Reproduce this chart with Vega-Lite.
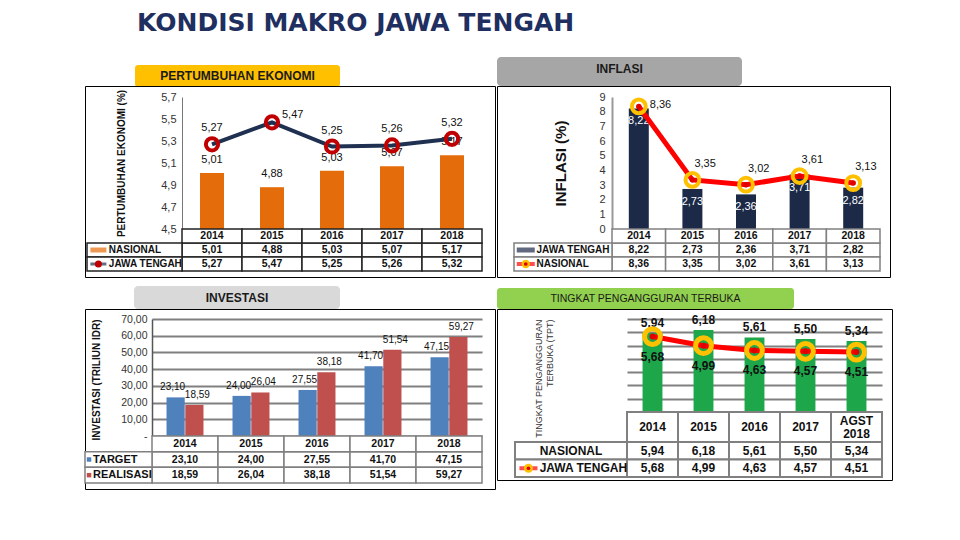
{
"$schema":"https://vega.github.io/schema/vega-lite/v6.json",
"background":"white",
"padding":{"left":83,"top":11,"right":10,"bottom":10},
"title":{"text":"KONDISI MAKRO JAWA TENGAH","anchor":"start","frame":"group","dx":52,"font":"DejaVu Sans","fontSize":25,"fontWeight":"bold","color":"#1f2f5f","offset":21},
"config":{"view":{"stroke":null},"font":"Liberation Sans","locale":{"number":{"decimal":",","thousands":".","grouping":[3],"currency":["Rp",""]}},"axis":{"labelFont":"Liberation Sans","titleFont":"Liberation Sans"}},
"datasets":{
"pe":[{"tahun":"2014","seri":"NASIONAL","nilai":5.01},{"tahun":"2014","seri":"JAWA TENGAH","nilai":5.27},{"tahun":"2015","seri":"NASIONAL","nilai":4.88},{"tahun":"2015","seri":"JAWA TENGAH","nilai":5.47},{"tahun":"2016","seri":"NASIONAL","nilai":5.03},{"tahun":"2016","seri":"JAWA TENGAH","nilai":5.25},{"tahun":"2017","seri":"NASIONAL","nilai":5.07},{"tahun":"2017","seri":"JAWA TENGAH","nilai":5.26},{"tahun":"2018","seri":"NASIONAL","nilai":5.17},{"tahun":"2018","seri":"JAWA TENGAH","nilai":5.32}],
"inf":[{"tahun":"2014","seri":"JAWA TENGAH","nilai":8.22},{"tahun":"2014","seri":"NASIONAL","nilai":8.36},{"tahun":"2015","seri":"JAWA TENGAH","nilai":2.73},{"tahun":"2015","seri":"NASIONAL","nilai":3.35},{"tahun":"2016","seri":"JAWA TENGAH","nilai":2.36},{"tahun":"2016","seri":"NASIONAL","nilai":3.02},{"tahun":"2017","seri":"JAWA TENGAH","nilai":3.71},{"tahun":"2017","seri":"NASIONAL","nilai":3.61},{"tahun":"2018","seri":"JAWA TENGAH","nilai":2.82},{"tahun":"2018","seri":"NASIONAL","nilai":3.13}],
"inv":[{"tahun":"2014","seri":"TARGET","nilai":23.10},{"tahun":"2014","seri":"REALISASI","nilai":18.59},{"tahun":"2015","seri":"TARGET","nilai":24.00},{"tahun":"2015","seri":"REALISASI","nilai":26.04},{"tahun":"2016","seri":"TARGET","nilai":27.55},{"tahun":"2016","seri":"REALISASI","nilai":38.18},{"tahun":"2017","seri":"TARGET","nilai":41.70},{"tahun":"2017","seri":"REALISASI","nilai":51.54},{"tahun":"2018","seri":"TARGET","nilai":47.15},{"tahun":"2018","seri":"REALISASI","nilai":59.27}],
"tpt":[{"tahun":"2014","seri":"NASIONAL","nilai":5.94},{"tahun":"2014","seri":"JAWA TENGAH","nilai":5.68},{"tahun":"2015","seri":"NASIONAL","nilai":6.18},{"tahun":"2015","seri":"JAWA TENGAH","nilai":4.99},{"tahun":"2016","seri":"NASIONAL","nilai":5.61},{"tahun":"2016","seri":"JAWA TENGAH","nilai":4.63},{"tahun":"2017","seri":"NASIONAL","nilai":5.50},{"tahun":"2017","seri":"JAWA TENGAH","nilai":4.57},{"tahun":"AGST 2018","seri":"NASIONAL","nilai":5.34},{"tahun":"AGST 2018","seri":"JAWA TENGAH","nilai":4.51}]
},
"columns":3,"align":"each","bounds":"flush","spacing":0,
"concat":[
 {"width":410,"height":29,"data":{"values":[{"t":"PERTUMBUHAN EKONOMI"}]},
  "encoding":{"x":{"datum":0,"type":"quantitative","scale":{"domain":[0,1],"range":[50,255]},"axis":null},"y":{"datum":0,"type":"quantitative","scale":{"domain":[0,1],"range":[8,30]},"axis":null}},
  "layer":[
   {"mark":{"type":"rect","color":"#ffc000","cornerRadius":3},"encoding":{"x2":{"datum":1},"y2":{"datum":1}}},
   {"mark":{"type":"text","fontWeight":"bold","fontSize":12,"color":"#1a1a1a"},"encoding":{"x":{"datum":0.5,"type":"quantitative"},"y":{"datum":0.5,"type":"quantitative"},"text":{"field":"t"}}}
  ]},
 {"width":2,"height":29,"data":{"values":[]},"mark":"point"},
 {"width":393,"height":29,"data":{"values":[{"t":"INFLASI"}]},
  "encoding":{"x":{"datum":0,"type":"quantitative","scale":{"domain":[0,1],"range":[0,245]},"axis":null},"y":{"datum":0,"type":"quantitative","scale":{"domain":[0,1],"range":[0,29]},"axis":null}},
  "layer":[
   {"mark":{"type":"rect","color":"#a6a6a6","cornerRadius":4},"encoding":{"x2":{"datum":1},"y2":{"datum":1}}},
   {"mark":{"type":"text","fontWeight":"bold","fontSize":12,"color":"#1a1a1a","dy":-3},"encoding":{"x":{"datum":0.5,"type":"quantitative"},"y":{"datum":0.5,"type":"quantitative"},"text":{"field":"t"}}}
  ]},

 {"width":410,"height":191,"view":{"stroke":"#000","strokeWidth":1},"data":{"name":"pe"},
  "resolve":{"scale":{"x":"independent","y":"independent"}},
  "layer":[
   {"encoding":{
     "x":{"field":"tahun","type":"ordinal","sort":null,"scale":{"range":[97,397],"paddingInner":0.6,"paddingOuter":0.3},"axis":null},
     "y":{"field":"nilai","type":"quantitative","scale":{"domain":[4.5,5.7],"zero":false,"nice":false,"range":[143,11]},"axis":{"offset":-97,"values":[4.5,4.7,4.9,5.1,5.3,5.5,5.7],"format":".1f","title":"PERTUMBUHAN EKONOMI (%)","titleFontSize":10,"titleFontWeight":"bold","titleColor":"#111","titlePadding":34,"labelFontSize":11,"labelColor":"#333","labelPadding":6,"ticks":false,"grid":false,"domainColor":"#777"}}},
    "layer":[
     {"transform":[{"filter":"datum.seri == 'NASIONAL'"}],"mark":{"type":"bar","color":"#e46c0a"},"encoding":{"y2":{"datum":4.5}}},
     {"transform":[{"filter":"datum.seri == 'NASIONAL'"}],"mark":{"type":"text","baseline":"bottom","dy":-8,"fontSize":11,"color":"#111"},"encoding":{"text":{"field":"nilai","type":"quantitative","format":".2f"}}},
     {"transform":[{"filter":"datum.seri == 'JAWA TENGAH'"}],"mark":{"type":"line","color":"#1f3050","strokeWidth":4},"encoding":{}},
     {"transform":[{"filter":"datum.seri == 'JAWA TENGAH'"}],"mark":{"type":"point","filled":false,"color":"#c00000","strokeWidth":4,"size":150,"opacity":1},"encoding":{}},
     {"transform":[{"filter":"datum.seri == 'JAWA TENGAH' && datum.tahun != '2015'"}],"mark":{"type":"text","baseline":"bottom","dy":-11,"fontSize":11,"color":"#111"},"encoding":{"text":{"field":"nilai","type":"quantitative","format":".2f"}}},
     {"transform":[{"filter":"datum.seri == 'JAWA TENGAH' && datum.tahun == '2015'"}],"mark":{"type":"text","align":"left","baseline":"middle","dx":10,"dy":-7,"fontSize":11,"color":"#111"},"encoding":{"text":{"field":"nilai","type":"quantitative","format":".2f"}}}
    ]},
   {"encoding":{
     "x":{"field":"tahun","type":"ordinal","sort":null,"scale":{"range":[97,397],"paddingInner":0,"paddingOuter":0},"axis":null},
     "y":{"field":"seri","type":"nominal","scale":{"domain":["th","NASIONAL","JAWA TENGAH"],"range":[143,185],"paddingInner":0,"paddingOuter":0},"axis":null}},
    "layer":[
     {"mark":{"type":"rect","fill":"white","stroke":"#222","strokeWidth":1.5},"encoding":{}},
     {"transform":[{"filter":"datum.seri == 'NASIONAL'"}],"mark":{"type":"rect","fill":"white","stroke":"#222","strokeWidth":1.5},"encoding":{"y":{"datum":"th","type":"nominal"}}},
     {"mark":{"type":"text","fontWeight":"bold","fontSize":10.5,"color":"#111"},"encoding":{"text":{"field":"nilai","type":"quantitative","format":".2f"}}},
     {"transform":[{"filter":"datum.seri == 'NASIONAL'"}],"mark":{"type":"text","fontWeight":"bold","fontSize":10.5,"color":"#111"},"encoding":{"y":{"datum":"th","type":"nominal"},"text":{"field":"tahun"}}}
    ]},
   {"transform":[{"filter":"datum.tahun == '2014'"}],
    "encoding":{
     "x":{"datum":0,"type":"quantitative","scale":{"domain":[0,1],"range":[2,97]},"axis":null},
     "y":{"field":"seri","type":"nominal","scale":{"domain":["th","NASIONAL","JAWA TENGAH"],"range":[143,185],"paddingInner":0,"paddingOuter":0},"axis":null}},
    "layer":[
     {"mark":{"type":"rect","fill":"white","stroke":"#222","strokeWidth":1.5},"encoding":{"x2":{"datum":1}}},
     {"mark":{"type":"text","align":"left","fontWeight":"bold","fontSize":10,"color":"#111"},"encoding":{"x":{"datum":0.23,"type":"quantitative"},"text":{"field":"seri"}}},
     {"transform":[{"filter":"datum.seri == 'NASIONAL'"}],"mark":{"type":"tick","orient":"horizontal","color":"#e46c0a","thickness":5,"size":16},"encoding":{"x":{"datum":0.12,"type":"quantitative"}}},
     {"transform":[{"filter":"datum.seri == 'JAWA TENGAH'"}],"mark":{"type":"tick","orient":"horizontal","color":"#1f3050","thickness":3,"size":16},"encoding":{"x":{"datum":0.12,"type":"quantitative"}}},
     {"transform":[{"filter":"datum.seri == 'JAWA TENGAH'"}],"mark":{"type":"point","filled":true,"color":"#c00000","size":50,"opacity":1},"encoding":{"x":{"datum":0.12,"type":"quantitative"}}}
    ]}
  ]},
 {"width":2,"height":191,"data":{"values":[]},"mark":"point"},
 {"width":393,"height":191,"view":{"stroke":"#000","strokeWidth":1},"data":{"name":"inf"},
  "resolve":{"scale":{"x":"independent","y":"independent"}},
  "layer":[
   {"encoding":{
     "x":{"field":"tahun","type":"ordinal","sort":null,"scale":{"range":[115,383],"paddingInner":0.627,"paddingOuter":0.3135},"axis":null},
     "y":{"field":"nilai","type":"quantitative","scale":{"domain":[0,9],"nice":false,"range":[143,11]},"axis":{"offset":-115,"values":[0,1,2,3,4,5,6,7,8,9],"format":"d","title":"INFLASI (%)","titleFontSize":15,"titleFontWeight":"bold","titleColor":"#111","titlePadding":30,"labelFontSize":11,"labelColor":"#333","labelPadding":7,"ticks":false,"grid":false,"domainColor":"#999","domainWidth":2}}},
    "layer":[
     {"transform":[{"filter":"datum.seri == 'JAWA TENGAH'"}],"mark":{"type":"bar","color":"#1c2a48"},"encoding":{}},
     {"transform":[{"filter":"datum.seri == 'JAWA TENGAH'"}],"mark":{"type":"text","baseline":"top","dy":7,"fontSize":11,"color":"white"},"encoding":{"text":{"field":"nilai","type":"quantitative","format":".2f"}}},
     {"transform":[{"filter":"datum.seri == 'NASIONAL'"}],"mark":{"type":"line","color":"#ff0000","strokeWidth":5},"encoding":{}},
     {"transform":[{"filter":"datum.seri == 'NASIONAL'"}],"mark":{"type":"point","filled":false,"color":"#ffc000","strokeWidth":4,"size":190,"opacity":1},"encoding":{}},
     {"transform":[{"filter":"datum.seri == 'NASIONAL'"}],"mark":{"type":"point","filled":true,"color":"#e00000","size":30,"opacity":1},"encoding":{}},
     {"transform":[{"filter":"datum.seri == 'NASIONAL' && datum.tahun != '2014'"}],"mark":{"type":"text","align":"left","baseline":"bottom","dx":2,"dy":-11,"fontSize":11,"color":"#111"},"encoding":{"text":{"field":"nilai","type":"quantitative","format":".2f"}}},
     {"transform":[{"filter":"datum.seri == 'NASIONAL' && datum.tahun == '2014'"}],"mark":{"type":"text","align":"left","baseline":"middle","dx":11,"dy":-1,"fontSize":11,"color":"#111"},"encoding":{"text":{"field":"nilai","type":"quantitative","format":".2f"}}}
    ]},
   {"encoding":{
     "x":{"field":"tahun","type":"ordinal","sort":null,"scale":{"range":[115,383],"paddingInner":0,"paddingOuter":0},"axis":null},
     "y":{"field":"seri","type":"nominal","scale":{"domain":["th","JAWA TENGAH","NASIONAL"],"range":[143,185],"paddingInner":0,"paddingOuter":0},"axis":null}},
    "layer":[
     {"mark":{"type":"rect","fill":"white","stroke":"#808080","strokeWidth":1.5},"encoding":{}},
     {"transform":[{"filter":"datum.seri == 'NASIONAL'"}],"mark":{"type":"rect","fill":"white","stroke":"#808080","strokeWidth":1.5},"encoding":{"y":{"datum":"th","type":"nominal"}}},
     {"mark":{"type":"text","fontWeight":"bold","fontSize":10.5,"color":"#111"},"encoding":{"text":{"field":"nilai","type":"quantitative","format":".2f"}}},
     {"transform":[{"filter":"datum.seri == 'NASIONAL'"}],"mark":{"type":"text","fontWeight":"bold","fontSize":10.5,"color":"#111"},"encoding":{"y":{"datum":"th","type":"nominal"},"text":{"field":"tahun"}}}
    ]},
   {"transform":[{"filter":"datum.tahun == '2014'"}],
    "encoding":{
     "x":{"datum":0,"type":"quantitative","scale":{"domain":[0,1],"range":[17,115]},"axis":null},
     "y":{"field":"seri","type":"nominal","scale":{"domain":["th","JAWA TENGAH","NASIONAL"],"range":[143,185],"paddingInner":0,"paddingOuter":0},"axis":null}},
    "layer":[
     {"mark":{"type":"rect","fill":"white","stroke":"#808080","strokeWidth":1.5},"encoding":{"x2":{"datum":1}}},
     {"mark":{"type":"text","align":"left","fontWeight":"bold","fontSize":10,"color":"#111"},"encoding":{"x":{"datum":0.23,"type":"quantitative"},"text":{"field":"seri"}}},
     {"transform":[{"filter":"datum.seri == 'JAWA TENGAH'"}],"mark":{"type":"tick","orient":"horizontal","color":"#1c2a48","thickness":5,"size":18},"encoding":{"x":{"datum":0.12,"type":"quantitative"}}},
     {"transform":[{"filter":"datum.seri == 'NASIONAL'"}],"mark":{"type":"tick","orient":"horizontal","color":"#ff0000","thickness":4,"size":18},"encoding":{"x":{"datum":0.12,"type":"quantitative"}}},
     {"transform":[{"filter":"datum.seri == 'NASIONAL'"}],"mark":{"type":"point","filled":true,"color":"#ffc000","size":70,"opacity":1},"encoding":{"x":{"datum":0.12,"type":"quantitative"}}},
     {"transform":[{"filter":"datum.seri == 'NASIONAL'"}],"mark":{"type":"point","filled":true,"color":"#e00000","size":14,"opacity":1},"encoding":{"x":{"datum":0.12,"type":"quantitative"}}}
    ]}
  ]},

 {"width":410,"height":32,"data":{"values":[{"t":"INVESTASI"}]},
  "encoding":{"x":{"datum":0,"type":"quantitative","scale":{"domain":[0,1],"range":[49,255]},"axis":null},"y":{"datum":0,"type":"quantitative","scale":{"domain":[0,1],"range":[9,32]},"axis":null}},
  "layer":[
   {"mark":{"type":"rect","color":"#d9d9d9","cornerRadius":4},"encoding":{"x2":{"datum":1},"y2":{"datum":1}}},
   {"mark":{"type":"text","fontWeight":"bold","fontSize":12,"color":"#1a1a1a"},"encoding":{"x":{"datum":0.5,"type":"quantitative"},"y":{"datum":0.5,"type":"quantitative"},"text":{"field":"t"}}}
  ]},
 {"width":2,"height":32,"data":{"values":[]},"mark":"point"},
 {"width":395,"height":32,"data":{"values":[{"t":"TINGKAT PENGANGGURAN TERBUKA"}]},
  "encoding":{"x":{"datum":0,"type":"quantitative","scale":{"domain":[0,1],"range":[0,297]},"axis":null},"y":{"datum":0,"type":"quantitative","scale":{"domain":[0,1],"range":[11,32]},"axis":null}},
  "layer":[
   {"mark":{"type":"rect","color":"#92d050","cornerRadius":3},"encoding":{"x2":{"datum":1},"y2":{"datum":1}}},
   {"mark":{"type":"text","fontSize":10.5,"color":"#1a1a1a"},"encoding":{"x":{"datum":0.5,"type":"quantitative"},"y":{"datum":0.5,"type":"quantitative"},"text":{"field":"t"}}}
  ]},

 {"width":410,"height":180,"view":{"stroke":"#000","strokeWidth":1},"data":{"name":"inv"},
  "resolve":{"scale":{"x":"independent","y":"independent"}},
  "layer":[
   {"encoding":{
     "x":{"field":"tahun","type":"ordinal","sort":null,"scale":{"range":[67,397],"paddingInner":0.44,"paddingOuter":0.22},"axis":null},
     "xOffset":{"field":"seri","type":"nominal","sort":null,"scale":{"domain":["TARGET","REALISASI"],"paddingInner":0.03}},
     "y":{"field":"nilai","type":"quantitative","scale":{"domain":[0,70],"nice":false,"range":[127,10]},"axis":{"offset":-67,"values":[0,10,20,30,40,50,60,70],"format":".2f","labelExpr":"datum.value == 0 ? '-' : datum.label","title":"INVESTASI (TRILIUN IDR)","titleFontSize":10,"titleFontWeight":"bold","titleColor":"#111","titlePadding":19,"titleAnchor":"end","labelFontSize":10.5,"labelColor":"#333","labelPadding":5,"ticks":false,"grid":true,"gridColor":"#808080","gridWidth":2,"domainColor":"#555","domainWidth":1.5}}},
    "layer":[
     {"transform":[{"filter":"datum.seri == 'TARGET'"}],"mark":{"type":"bar","color":"#4f81bd"},"encoding":{}},
     {"transform":[{"filter":"datum.seri == 'REALISASI'"}],"mark":{"type":"bar","color":"#c0504d"},"encoding":{}},
     {"transform":[{"filter":"datum.seri == 'TARGET'"}],"mark":{"type":"text","baseline":"bottom","dx":-3,"dy":-5,"fontSize":10,"color":"#111"},"encoding":{"text":{"field":"nilai","type":"quantitative","format":".2f"}}},
     {"transform":[{"filter":"datum.seri == 'REALISASI'"}],"mark":{"type":"text","baseline":"bottom","dx":3,"dy":-5,"fontSize":10,"color":"#111"},"encoding":{"text":{"field":"nilai","type":"quantitative","format":".2f"}}}
    ]},
   {"encoding":{
     "x":{"field":"tahun","type":"ordinal","sort":null,"scale":{"range":[67,397],"paddingInner":0,"paddingOuter":0},"axis":null},
     "y":{"field":"seri","type":"nominal","scale":{"domain":["th","TARGET","REALISASI"],"range":[127,174],"paddingInner":0,"paddingOuter":0},"axis":null}},
    "layer":[
     {"mark":{"type":"rect","fill":"white","stroke":"#808080","strokeWidth":1.5},"encoding":{}},
     {"transform":[{"filter":"datum.seri == 'TARGET'"}],"mark":{"type":"rect","fill":"white","stroke":"#808080","strokeWidth":1.5},"encoding":{"y":{"datum":"th","type":"nominal"}}},
     {"mark":{"type":"text","fontWeight":"bold","fontSize":10.5,"color":"#111"},"encoding":{"text":{"field":"nilai","type":"quantitative","format":".2f"}}},
     {"transform":[{"filter":"datum.seri == 'TARGET'"}],"mark":{"type":"text","fontWeight":"bold","fontSize":10.5,"color":"#111"},"encoding":{"y":{"datum":"th","type":"nominal"},"text":{"field":"tahun"}}}
    ]},
   {"transform":[{"filter":"datum.tahun == '2014'"}],
    "encoding":{
     "x":{"datum":0,"type":"quantitative","scale":{"domain":[0,1],"range":[0,67]},"axis":null},
     "y":{"field":"seri","type":"nominal","scale":{"domain":["th","TARGET","REALISASI"],"range":[127,174],"paddingInner":0,"paddingOuter":0},"axis":null}},
    "layer":[
     {"mark":{"type":"rect","fill":"white","stroke":"#808080","strokeWidth":1.5},"encoding":{"x2":{"datum":1}}},
     {"mark":{"type":"text","align":"left","fontWeight":"bold","fontSize":11,"color":"#111"},"encoding":{"x":{"datum":0.12,"type":"quantitative"},"text":{"field":"seri"}}},
     {"transform":[{"filter":"datum.seri == 'TARGET'"}],"mark":{"type":"point","shape":"square","filled":true,"color":"#4f81bd","size":20,"opacity":1},"encoding":{"x":{"datum":0.06,"type":"quantitative"}}},
     {"transform":[{"filter":"datum.seri == 'REALISASI'"}],"mark":{"type":"point","shape":"square","filled":true,"color":"#c0504d","size":20,"opacity":1},"encoding":{"x":{"datum":0.06,"type":"quantitative"}}}
    ]}
  ]},
 {"width":2,"height":180,"data":{"values":[]},"mark":"point"},
 {"width":395,"height":171,"view":{"stroke":"#000","strokeWidth":1},"data":{"name":"tpt"},
  "resolve":{"scale":{"x":"independent","y":"independent"}},
  "layer":[
   {"encoding":{
     "x":{"field":"tahun","type":"ordinal","sort":null,"scale":{"range":[130,385],"paddingInner":0.61,"paddingOuter":0.305},"axis":null},
     "y":{"field":"nilai","type":"quantitative","scale":{"domain":[0,7],"nice":false,"range":[103,10]},"axis":{"offset":-130,"values":[0,1,2,3,4,5,6,7],"labels":false,"ticks":false,"domain":false,"grid":true,"gridColor":"#808080","gridWidth":2,"title":["TINGKAT PENGANGGURAN","TERBUKA (TPT)"],"titleFontSize":9,"titleFontWeight":"normal","titleColor":"#333","titlePadding":73,"titleAnchor":"end"}}},
    "layer":[
     {"transform":[{"filter":"datum.seri == 'NASIONAL'"}],"mark":{"type":"bar","color":"#1ea64b"},"encoding":{}},
     {"transform":[{"filter":"datum.seri == 'NASIONAL'"}],"mark":{"type":"text","baseline":"bottom","dy":-3,"fontWeight":"bold","fontSize":12,"color":"#111"},"encoding":{"text":{"field":"nilai","type":"quantitative","format":".2f"}}},
     {"transform":[{"filter":"datum.seri == 'JAWA TENGAH'"}],"mark":{"type":"line","color":"#ff0000","strokeWidth":5},"encoding":{}},
     {"transform":[{"filter":"datum.seri == 'JAWA TENGAH'"}],"mark":{"type":"point","filled":false,"color":"#ffc000","strokeWidth":5,"size":250,"opacity":1},"encoding":{}},
     {"transform":[{"filter":"datum.seri == 'JAWA TENGAH'"}],"mark":{"type":"point","filled":true,"color":"#e00000","size":35,"opacity":1},"encoding":{}},
     {"transform":[{"filter":"datum.seri == 'JAWA TENGAH'"}],"mark":{"type":"text","baseline":"middle","dy":20,"fontWeight":"bold","fontSize":12,"color":"#111"},"encoding":{"text":{"field":"nilai","type":"quantitative","format":".2f"}}}
    ]},
   {"transform":[{"filter":"datum.seri == 'NASIONAL'"}],
    "encoding":{
     "x":{"field":"tahun","type":"ordinal","sort":null,"scale":{"range":[130,385],"paddingInner":0,"paddingOuter":0},"axis":null},
     "y":{"datum":0,"type":"quantitative","scale":{"domain":[0,1],"range":[103,133]},"axis":null}},
    "layer":[
     {"mark":{"type":"rect","fill":"white","stroke":"#808080","strokeWidth":2},"encoding":{"y2":{"datum":1}}},
     {"transform":[{"filter":"datum.tahun != 'AGST 2018'"}],"mark":{"type":"text","fontWeight":"bold","fontSize":12,"color":"#111"},"encoding":{"y":{"datum":0.5,"type":"quantitative"},"text":{"field":"tahun"}}},
     {"transform":[{"filter":"datum.tahun == 'AGST 2018'"}],"mark":{"type":"text","fontWeight":"bold","fontSize":12,"lineBreak":" ","lineHeight":13,"dy":-6,"color":"#111"},"encoding":{"y":{"datum":0.5,"type":"quantitative"},"text":{"field":"tahun"}}}
    ]},
   {"encoding":{
     "x":{"field":"tahun","type":"ordinal","sort":null,"scale":{"range":[130,385],"paddingInner":0,"paddingOuter":0},"axis":null},
     "y":{"field":"seri","type":"nominal","scale":{"domain":["NASIONAL","JAWA TENGAH"],"range":[133,168],"paddingInner":0,"paddingOuter":0},"axis":null}},
    "layer":[
     {"mark":{"type":"rect","fill":"white","stroke":"#808080","strokeWidth":2},"encoding":{}},
     {"mark":{"type":"text","fontWeight":"bold","fontSize":12,"color":"#111"},"encoding":{"text":{"field":"nilai","type":"quantitative","format":".2f"}}}
    ]},
   {"transform":[{"filter":"datum.tahun == '2014'"}],
    "encoding":{
     "x":{"datum":0,"type":"quantitative","scale":{"domain":[0,1],"range":[18,130]},"axis":null},
     "y":{"field":"seri","type":"nominal","scale":{"domain":["NASIONAL","JAWA TENGAH"],"range":[133,168],"paddingInner":0,"paddingOuter":0},"axis":null}},
    "layer":[
     {"mark":{"type":"rect","fill":"white","stroke":"#808080","strokeWidth":2},"encoding":{"x2":{"datum":1}}},
     {"transform":[{"filter":"datum.seri == 'NASIONAL'"}],"mark":{"type":"text","fontWeight":"bold","fontSize":12,"color":"#111"},"encoding":{"x":{"datum":0.5,"type":"quantitative"},"text":{"field":"seri"}}},
     {"transform":[{"filter":"datum.seri == 'JAWA TENGAH'"}],"mark":{"type":"text","align":"left","fontWeight":"bold","fontSize":12,"color":"#111"},"encoding":{"x":{"datum":0.22,"type":"quantitative"},"text":{"field":"seri"}}},
     {"transform":[{"filter":"datum.seri == 'JAWA TENGAH'"}],"mark":{"type":"tick","orient":"horizontal","color":"#ff0000","thickness":4,"size":18},"encoding":{"x":{"datum":0.12,"type":"quantitative"}}},
     {"transform":[{"filter":"datum.seri == 'JAWA TENGAH'"}],"mark":{"type":"point","filled":true,"color":"#ffc000","size":80,"opacity":1},"encoding":{"x":{"datum":0.12,"type":"quantitative"}}},
     {"transform":[{"filter":"datum.seri == 'JAWA TENGAH'"}],"mark":{"type":"point","filled":true,"color":"#e00000","size":14,"opacity":1},"encoding":{"x":{"datum":0.12,"type":"quantitative"}}}
    ]}
  ]}
]
}
